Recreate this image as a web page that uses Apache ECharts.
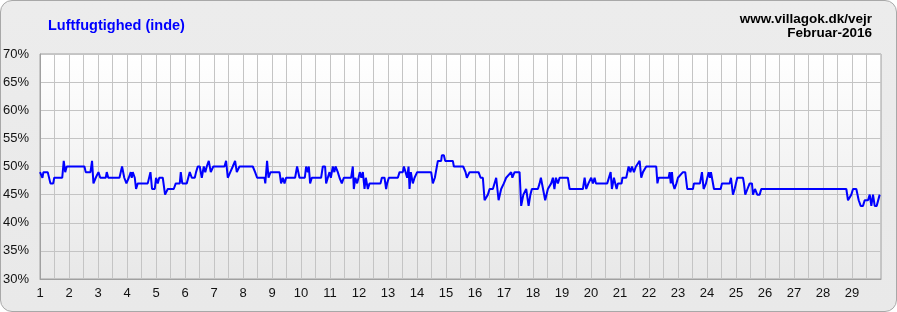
<!DOCTYPE html>
<html>
<head>
<meta charset="utf-8">
<script src="https://cdn.jsdelivr.net/npm/echarts@6/dist/echarts.min.js"></script>
<style>
html,body{margin:0;padding:0;background:#fff;}
#frame{position:absolute;left:0;top:0;width:895px;height:310px;border:1px solid #a8a8a8;border-radius:12px;background:linear-gradient(#ececec,#e9e9e9);overflow:hidden;}
#chart{position:absolute;left:-1px;top:-1px;width:897px;height:312px;}
</style>
</head>
<body>
<div id="frame"><div id="chart"></div></div>
<script>
const titleText = 'Luftfugtighed (inde)';
const siteText = 'www.villagok.dk/vejr';
const monthText = 'Februar-2016';
const yTicks = [30, 35, 40, 45, 50, 55, 60, 65, 70];
const dayLabels = [1,2,3,4,5,6,7,8,9,10,11,12,13,14,15,16,17,18,19,20,21,22,23,24,25,26,27,28,29];

const days = [
1.000,1.083,1.117,1.266,1.359,1.455,1.490,1.766,1.818,1.869,1.921,
2.532,2.576,2.739,2.794,2.842,2.921,3.015,3.077,3.266,3.301,3.353,3.739,3.829,3.905,3.980,
4.060,4.129,4.163,4.198,4.267,4.312,4.370,4.715,4.808,4.863,4.957,5.001,5.060,5.112,5.233,
5.312,5.405,5.612,5.681,5.819,5.854,5.905,6.060,6.112,6.164,6.233,6.336,6.381,6.440,6.509,
6.578,6.647,6.699,6.750,6.819,6.888,6.975,7.361,7.416,7.475,7.561,7.647,7.727,7.786,7.878,
8.337,8.417,8.486,8.741,8.768,8.830,8.879,8.948,9.258,9.313,9.372,9.431,9.486,9.796,9.865,
9.948,10.131,10.176,10.235,10.269,10.314,10.372,10.693,10.752,10.831,10.866,10.924,10.983,
11.028,11.097,11.149,11.190,11.269,11.328,11.407,11.476,11.728,11.786,11.821,11.873,11.935,
11.983,12.028,12.080,12.132,12.190,12.235,12.270,12.304,12.363,12.742,12.787,12.880,12.935,
12.970,13.028,13.339,13.398,13.511,13.546,13.605,13.660,13.708,13.742,13.787,13.856,13.915,
14.005,14.488,14.546,14.615,14.684,14.719,14.833,14.857,14.926,14.971,15.236,15.271,15.592,
15.674,15.719,15.812,16.123,16.192,16.271,16.330,16.444,16.502,16.616,16.730,16.813,16.902,
16.995,17.074,17.247,17.288,17.364,17.537,17.592,17.668,17.765,17.848,17.910,17.961,18.168,
18.227,18.272,18.420,18.513,18.627,18.686,18.738,18.789,18.858,18.917,19.203,19.262,19.721,
19.780,19.835,19.911,20.007,20.066,20.124,20.169,20.559,20.677,20.721,20.790,20.814,20.883,
20.928,21.055,21.083,21.215,21.297,21.359,21.411,21.480,21.549,21.677,21.732,21.791,21.905,
22.249,22.290,22.332,22.677,22.712,22.750,22.791,22.825,22.880,22.946,22.998,23.170,23.249,
23.319,23.515,23.550,23.757,23.826,23.884,23.964,24.057,24.102,24.136,24.171,24.240,24.471,
24.516,24.781,24.826,24.895,24.954,25.043,25.240,25.274,25.319,25.395,25.471,25.550,25.585,
25.654,25.733,25.816,25.871,28.804,28.862,28.976,29.035,29.149,29.231,29.300,29.379,29.438,
29.552,29.611,29.666,29.724,29.783,29.852,29.955
];
const humidity = [
49,48,49,49,47,47,48,48,51,49,50,
50,49,49,51,47,48,49,48,48,49,48,48,50,48,47,
48,49,48,49,48,46,47,47,49,46,46,48,47,48,48,
45,46,46,47,47,49,47,47,48,49,48,48,49,50,50,
48,50,49,50,51,49,50,50,51,48,49,50,51,49,50,
50,49,48,48,47,51,48,49,49,47,48,47,48,48,50,
48,48,50,49,50,47,48,48,50,50,47,48,49,
48,50,49,50,49,48,47,48,48,50,46,48,47,
48,49,48,49,46,48,48,46,47,47,48,48,46,
47,48,48,49,49,50,49,48,50,46,49,47,48,
49,49,47,48,50,51,51,52,52,51,51,50,50,
49,48,49,49,48,48,44,45,46,46,48,44,46,
47,48,49,48,49,49,43,45,46,43,45,46,46,
47,48,44,46,47,48,46,48,47,48,48,46,46,
48,46,47,48,47,48,47,47,49,46,48,48,46,
47,47,48,48,50,49,50,49,50,51,48,49,50,
50,47,48,48,49,47,49,47,46,47,48,49,49,
46,46,47,47,49,46,47,49,48,49,48,46,46,
47,47,48,45,46,48,48,47,45,46,47,47,45,
46,45,45,46,46,44,45,46,46,44,43,43,44,
44,45,43,45,43,43,45
];

const seriesData = days.map((d, i) => [d, humidity[i]]);
const FONT = 'Liberation Sans, Arial, sans-serif';

const chart = echarts.init(document.getElementById('chart'), null, {renderer: 'canvas'});
chart.setOption({
  animation: false,
  backgroundColor: 'transparent',
  textStyle: {fontFamily: FONT},
  graphic: [
    {type: 'text', left: 48, top: 18, silent: true,
     style: {text: titleText, fill: '#0000ff', font: 'bold 14.5px ' + FONT}},
    {type: 'text', right: 25, top: 12, silent: true,
     style: {text: siteText, fill: '#000', font: 'bold 13.5px ' + FONT}},
    {type: 'text', right: 25, top: 26, silent: true,
     style: {text: monthText, fill: '#000', font: 'bold 13.5px ' + FONT}}
  ],
  grid: {
    left: 40, right: 16, top: 54, bottom: 33,
    show: true,
    borderColor: '#a0a0a0', borderWidth: 1,
    backgroundColor: {type: 'linear', x: 0, y: 0, x2: 0, y2: 1, colorStops: [{offset: 0, color: '#ffffff'}, {offset: 1, color: '#e8e8e8'}]}
  },
  xAxis: {
    type: 'value', min: 1, max: 30, interval: 1,
    axisLine: {show: true, lineStyle: {color: '#a0a0a0'}},
    axisTick: {show: false},
    axisLabel: {color: '#111', fontSize: 13, margin: 8, showMaxLabel: true,
      formatter: v => dayLabels.indexOf(v) >= 0 ? String(v) : ''},
    splitLine: {show: true, lineStyle: {color: '#c4c4c4', width: 1}},
    minorTick: {show: false, splitNumber: 2},
    minorSplitLine: {show: true, lineStyle: {color: '#c4c4c4', width: 1}}
  },
  yAxis: {
    type: 'value', min: yTicks[0], max: yTicks[yTicks.length - 1], interval: 5,
    axisLine: {show: true, lineStyle: {color: '#a0a0a0'}},
    axisTick: {show: false},
    axisLabel: {color: '#111', fontSize: 13, margin: 11, formatter: '{value}%'},
    splitLine: {show: true, lineStyle: {color: '#c4c4c4', width: 1}}
  },
  series: [{
    type: 'line',
    data: seriesData,
    showSymbol: false,
    symbol: 'none',
    lineStyle: {color: '#0000ff', width: 2},
    itemStyle: {color: '#0000ff'}
  }]
});
</script>
</body>
</html>
